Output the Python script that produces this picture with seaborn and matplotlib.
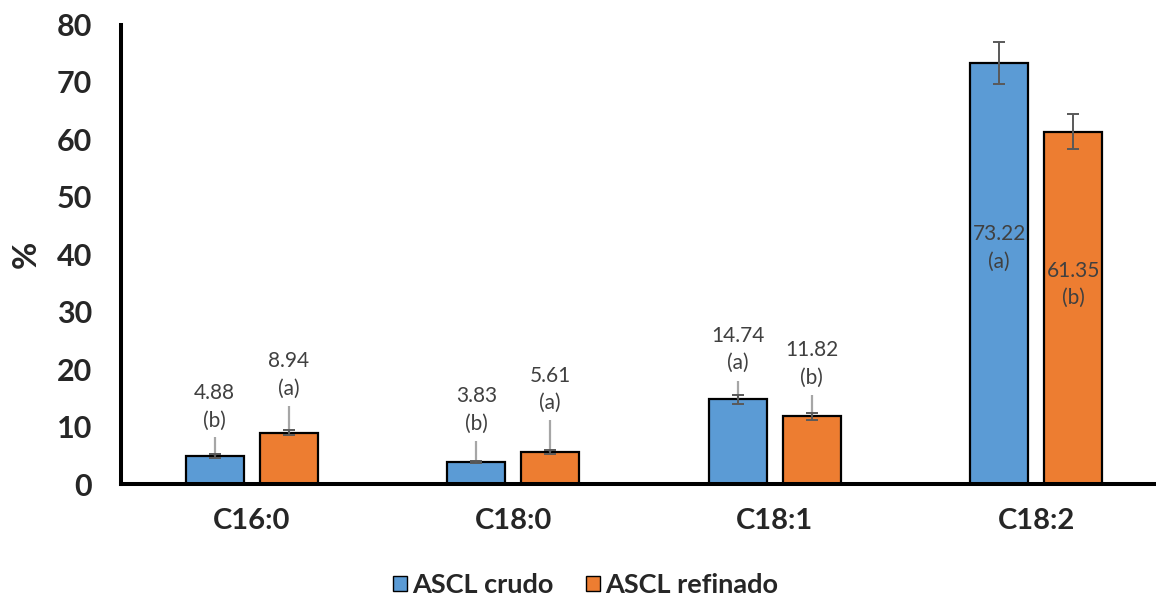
import pandas as pd
import matplotlib
matplotlib.use("Agg")
import matplotlib.pyplot as plt
import seaborn as sns

# datos
acidos = ["C16:0", "C18:0", "C18:1", "C18:2"]
series = ["ASCL crudo", "ASCL refinado"]
crudo = [4.88, 3.83, 14.74, 73.22]
refinado = [8.94, 5.61, 11.82, 61.35]
err_crudo = [0.3, 0.2, 0.8, 3.65]
err_refinado = [0.45, 0.3, 0.6, 3.05]
letras_crudo = ["b", "b", "a", "a"]
letras_refinado = ["a", "a", "b", "b"]

# posicion de las etiquetas (a mano, como en el original)
etiq_y = {"ASCL crudo": [13.4, 12.9, 23.4, 41.1], "ASCL refinado": [19.0, 16.5, 20.9, 34.8]}
guia_top = {"ASCL crudo": [8.2, 7.5, 17.9, None], "ASCL refinado": [13.6, 11.1, 15.5, None]}

df = pd.DataFrame({
    "Acido": acidos * 2,
    "Muestra": [series[0]] * 4 + [series[1]] * 4,
    "Valor": crudo + refinado,
})
errores = {series[0]: err_crudo, series[1]: err_refinado}
letras = {series[0]: letras_crudo, series[1]: letras_refinado}
valores = {series[0]: crudo, series[1]: refinado}

sns.set_style("white")
plt.rcParams["font.family"] = ["Lato", "DejaVu Sans"]

fig = plt.figure(figsize=(11.56, 5.96), dpi=100)
ax = fig.add_axes([121 / 1156, 1 - 484 / 596, 1 - 121 / 1156, (484 - 24.5) / 596])

sns.barplot(data=df, x="Acido", y="Valor", hue="Muestra", order=acidos, hue_order=series,
            palette=["#5B9BD5", "#ED7D31"], saturation=1, width=0.566, gap=0.216,
            edgecolor="black", linewidth=1.6, errorbar=None, ax=ax)

for cont, serie in zip(ax.containers, series):
    xs = [p.get_x() + p.get_width() / 2 for p in cont.patches]
    for i, x in enumerate(xs):
        top = guia_top[serie][i]
        if top is not None:
            ax.plot([x, x], [valores[serie][i], top], color="#a6a6a6", lw=1.6, zorder=3,
                    solid_capstyle="butt")
    ax.errorbar(xs, valores[serie], yerr=errores[serie], fmt="none", ecolor="#595959",
                elinewidth=1.4, capsize=4.3, capthick=1.4, zorder=4)
    for i, x in enumerate(xs):
        ax.text(x, etiq_y[serie][i], f"{valores[serie][i]:.2f}\n({letras[serie][i]})",
                ha="center", va="center", fontsize=15, color="#404040", linespacing=1.45,
                zorder=5)

ax.set_ylim(0, 80)
ax.set_xlim(-0.5, 3.458)
ax.set_yticks(range(0, 81, 10))
ax.set_xlabel("")
ax.set_ylabel("%", fontsize=24, fontweight="bold", rotation=90)
ax.yaxis.set_label_coords(-0.078, 0.5)
ax.tick_params(axis="y", length=0, pad=21, labelsize=22)
ax.tick_params(axis="x", length=0, pad=17, labelsize=21)
for lab in ax.get_xticklabels() + ax.get_yticklabels():
    lab.set_fontweight("bold")
for s in ["top", "right"]:
    ax.spines[s].set_visible(False)
for s in ["left", "bottom"]:
    ax.spines[s].set_linewidth(2.9)
    ax.spines[s].set_color("black")

handles, labels = ax.get_legend_handles_labels()
ax.get_legend().remove()
for h in handles:
    h.set_edgecolor("black")
    h.set_linewidth(1)
fig.legend(handles, labels, loc="center", bbox_to_anchor=(585.5 / 1156, 1 - 585 / 596),
           ncol=2, frameon=False, prop={"weight": "bold", "size": 19.5},
           handlelength=0.52, handleheight=0.52, handletextpad=0.2, columnspacing=1.2)

fig.savefig("out.png", dpi=100)
